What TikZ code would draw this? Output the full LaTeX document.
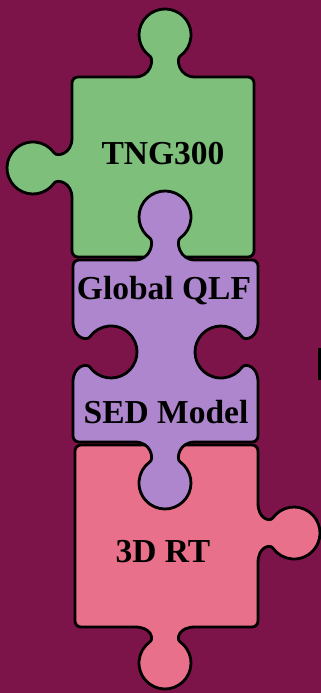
\documentclass[tikz,border=0pt]{standalone}
\usepackage{fontspec}
\setmainfont{Liberation Serif}

\definecolor{bgplum}{HTML}{7D1449}
\definecolor{piecegreen}{HTML}{7DBF7B}
\definecolor{piecepurple}{HTML}{AD86CD}
\definecolor{piecepink}{HTML}{E8708A}

% knob of a puzzle piece along the local x axis, sticking out along local y
% #1 = distance of the knob centre from the edge
\newcommand{\knob}[1]{{[sharp corners] -- (-30,0) .. controls (-14,0) and (-11,#1-24.5) .. (-14.9,#1-21.3)
  arc[start angle=235,end angle=-55,radius=26] .. controls (11,#1-24.5) and (14,0) .. (30,0)}}

\begin{document}
\begin{tikzpicture}[x=1pt,y=1pt,
    piece/.style={draw=black, line width=2.8pt, rounded corners=6pt},
    piecetext/.style={anchor=base, font=\fontsize{33.5}{36}\selectfont\bfseries}]
        \fill[bgplum] (0,0) rectangle (321,693);
        \useasboundingbox (0,0) rectangle (321,693);

        % top piece
        \filldraw[piece, fill=piecegreen] (100,616) {[shift={(165,616)}] \knob{42}} -- (254,616)
            -- (254,436) -- (72,436) {[shift={(72,525)},rotate=90] \knob{39}} -- (72,616) -- cycle;

        % bottom piece
        \filldraw[piece, fill=piecepink] (100,248) -- (258,248) {[shift={(258,160)},rotate=-90] \knob{36}}
            -- (258,66) {[shift={(165,66)},rotate=180] \knob{36}} -- (75,66) -- (75,248) -- cycle;

        % middle piece, with two holes
        \filldraw[piece, fill=piecepurple] (100,433) {[shift={(165,433)}] \knob{43}} -- (258,433)
            {[shift={(258,341)},rotate=-90,yscale=-1] \knob{37}} -- (258,251)
            {[shift={(165,251)},rotate=180] \knob{41}} -- (73,251)
            {[shift={(73,341)},rotate=90,yscale=-1] \knob{38}} -- (73,433) -- cycle;

        \node[piecetext] (tng) at (163,528) {TNG300};
        \node[piecetext] (qlf) at (164,393) {Global QLF};
        \node[piecetext] (sed) at (166,269) {SED Model};
        \node[piecetext] (rt) at (163,130) {3D RT};

        \fill[black] (318,313) rectangle (321,345);
    \end{tikzpicture}
\end{document}
